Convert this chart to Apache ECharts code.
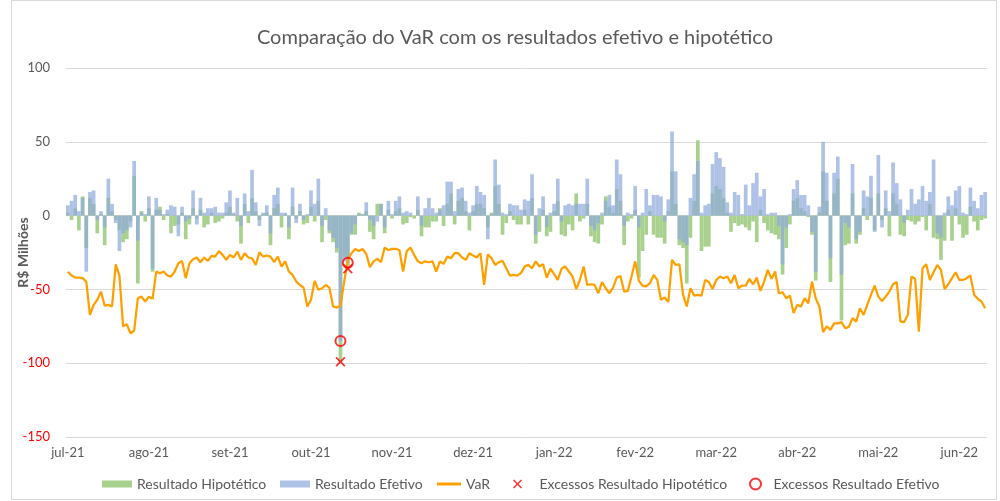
<!DOCTYPE html>
<html><head><meta charset="utf-8">
<script src="https://cdn.jsdelivr.net/npm/echarts@6/dist/echarts.min.js"></script>
<style>html,body{margin:0;padding:0;background:#fff}#c{width:1000px;height:501px}</style>
</head><body><div id="c"></div>
<script>
const chartTitle = 'Comparação do VaR com os resultados efetivo e hipotético';
const yAxisName = 'R$ Milhões';
const monthLabels = ['jul-21','ago-21','set-21','out-21','nov-21','dez-21','jan-22','fev-22','mar-22','abr-22','mai-22','jun-22'];
const daysPerLabel = 22;
const yTicks = [-150, -100, -50, 0, 50, 100];

const hipotetico = [
  2, -3, 5, -10, 13, -22, 12, 8, -12, 1,
  -20, 12, 3, -3, -10, -18, -16, -4, 27, -46,
  3, -4, 5, -38, 4, 6, -3, 1, -12, -7,
  -6, 2, -16, -6, 5, -2, 4, -8, -6, 2,
  -5, -4, -2, 2, 6, 1, -4, -19, 8, -5,
  12, 3, -3, 1, 2, -20, 5, 8, -8, 1,
  -16, 6, -2, 3, -6, -5, 6, -4, 10, -18,
  -3, -12, -18, -25, -99, -28, -36, -13, -13, 2,
  1, 3, -11, -16, 8, 8, -12, 4, -2, 3,
  5, -6, -5, -1, -2, 4, -14, -8, -8, -4,
  -4, 5, -7, 8, 15, -6, 10, 12, 3, -10,
  3, 8, 8, 5, -8, 2, 20, 8, -13, -5,
  3, -3, -6, -6, 4, -6, 12, -19, -11, 4,
  -14, -11, 3, 10, -13, -14, -6, -10, 15, -4,
  -2, 8, -14, -18, -19, -6, 13, 6, 2, 18,
  10, -20, -4, -2, 4, -42, -24, -13, 3, -13,
  -15, -15, -19, 3, 30, 8, -20, -22, -46, -15,
  10, 51, -24, -21, -21, 15, 20, 18, 12, 2,
  -11, -5, -7, -6, -8, -10, -4, -18, 4, -5,
  -10, -12, -13, -16, -40, -22, -6, 10, 12, 5,
  3, -1, -13, -44, 2, 30, 10, -45, 15, 25,
  -71, -20, -19, 15, -19, -13, 5, -3, 12, -10,
  15, -3, 5, -14, 15, 8, -13, -14, -3, -4,
  -6, -4, -1, -10, 8, -15, -16, -30, -17, 4,
  -17, 5, -6, -15, -13, 6, -4, -10, -3, -2
];

const efetivo = [
  7, 10, 14, 3, 12, -38, 16, 17, -3, 3,
  -8, 25, 8, -5, -24, -12, -10, -8, 37, -17,
  2, 1, 13, -36, 12, 4, 1, 4, 7, 6,
  -14, 6, -4, -2, 17, -6, 12, 2, 5, 5,
  6, 2, 2, 9, 17, 2, 12, -7, 15, 3,
  31, 9, -7, 2, 7, -12, 14, 19, 2, 2,
  -8, 19, -5, 8, -3, 1, 17, 8, 25, -7,
  5, -10, -15, -22, -85, -31, -32, -12, -6, 1,
  1, 9, -3, -7, -4, 8, -8, 10, 1, 10,
  13, 2, 3, 2, 0, 13, -7, 5, 12, 5,
  2, 4, 7, 23, 23, 3, 18, 19, 10, 2,
  7, 20, 16, 14, -16, 1, 38, 21, 2, 1,
  8, 7, 7, 4, 11, 10, 28, -13, 5, 13,
  -8, 2, 8, 25, -4, 7, 8, 7, 8, 8,
  8, 25, -7, -10, -5, 2, 10, 14, 7, 38,
  28, -7, 2, 1, 20, -8, 2, 18, 7, 14,
  14, 13, -4, 11, 57, 30, -16, -18, -20, 12,
  28, 37, 2, 7, 8, 35, 43, 39, 33, 9,
  2, 16, 14, 1, 21, 7, 22, 29, 13, 18,
  1, 2, 2, -7, -33, -8, 1, 18, 24, 14,
  14, 7, -11, -38, 6, 50, 29, -29, 29, 40,
  -40, -5, -8, 35, -16, -11, 17, 13, 27, -11,
  41, -8, 17, 3, 36, 22, 11, -5, 4, 18,
  8, 11, 20, 10, 16, 38, -12, -15, 2, 13,
  7, 17, 20, 2, 1, 19, 10, 5, 14, 16
];

const varValues = [
  -38, -40.6, -42, -42, -42.4, -44.7, -67.3, -60.5, -57, -51.5,
  -61, -60.5, -61.6, -33, -40.6, -75, -73.6, -79.7, -78, -56,
  -54.9, -58.2, -55, -56.4, -37.9, -39, -37.9, -40.6, -41.3, -37.9,
  -32.3, -30.7, -42.4, -32.3, -29.6, -28.4, -31.6, -28.4, -30.7, -27.3,
  -27.8, -24, -26.6, -30, -26.6, -28.4, -24.4, -30, -25.5, -28.4,
  -28.9, -33.4, -24.8, -27.8, -27, -27.8, -31.6, -27.8, -34.5, -31,
  -37.9, -40.2, -44.7, -47, -48.8, -61.6, -57, -44.2, -50.3, -49.2,
  -47, -48.8, -61.6, -62.3, -61, -45, -30, -25.5, -22.6, -24,
  -22.6, -26, -35, -31, -29.3, -31.6, -21.7, -23.3, -22.6, -22.6,
  -23.3, -37.9, -24, -21.7, -26.6, -31, -32.3, -31, -31.6, -31,
  -37.9, -31, -32.7, -27.8, -28.9, -25.5, -25.5, -28.4, -30, -25.5,
  -27, -28.4, -25.5, -47, -26.2, -28.9, -33.4, -31.6, -30.7, -35.7,
  -40.6, -40.2, -40.6, -39, -34.5, -33.4, -35.7, -31, -34.5, -33,
  -42, -36, -39.7, -43.6, -36, -34.5, -37.9, -41.3, -49.7, -43.6,
  -34.5, -47, -46.5, -47, -52.6, -45, -49.2, -52.6, -48.8, -42,
  -40.9, -51.5, -51, -41.3, -31, -44.2, -47.4, -48, -45.8, -40.2,
  -43.6, -57, -55.4, -58.5, -30, -33.4, -33, -53.7, -61.6, -49.2,
  -54.2, -53.7, -54.2, -43.6, -45, -49.7, -43.6, -41.3, -42.4, -41.3,
  -45.8, -40.2, -49.2, -47.4, -47.4, -42.9, -46.5, -42, -51, -44.7,
  -36.8, -42.9, -37.9, -52.6, -52, -56, -54.2, -66, -60.5, -61.6,
  -56, -59.4, -44.7, -56, -61.6, -79, -75, -77.4, -73, -73,
  -72.2, -76.3, -75.4, -69.5, -71.8, -62.8, -67.3, -60.5, -53.7, -47.4,
  -54.9, -57.8, -54.9, -51.5, -46.5, -45, -71.8, -72.2, -67.3, -41.3,
  -42.9, -78.6, -35.7, -33, -43.6, -38.4, -33.4, -36.8, -49.7, -46.5,
  -42.4, -38.4, -43.6, -43.6, -42.4, -40.6, -53.7, -56.4, -58.2, -62.8
];

const excessHipDays = [74, 76];
const excessEfDays = [74, 76];

const names = {
  hip: 'Resultado Hipotético',
  ef: 'Resultado Efetivo',
  varN: 'VaR',
  exHip: 'Excessos Resultado Hipotético',
  exEf: 'Excessos Resultado Efetivo'
};

const days = hipotetico.map((_, i) => String(i));
const FONT = 'Lato';
const TXT = '#595959';
const xPath = 'path://M0,1.2L1.2,0L5,3.8L8.8,0L10,1.2L6.2,5L10,8.8L8.8,10L5,6.2L1.2,10L0,8.8L3.8,5Z';

const chart = echarts.init(document.getElementById('c'), null, {renderer: 'canvas'});
const legendBase = {
  top: 477, itemGap: 0, padding: 0, selectedMode: false, symbolKeepAspect: true,
  textStyle: {fontFamily: FONT, fontSize: 14, color: TXT}
};
chart.setOption({
  animation: false,
  backgroundColor: '#fff',
  textStyle: {fontFamily: FONT},
  graphic: [
    {type: 'rect', shape: {x: 11.5, y: 0.5, width: 985, height: 499}, style: {fill: 'none', stroke: '#D9D9D9', lineWidth: 1}, silent: true},
    {type: 'text', x: 515, y: 38, style: {text: chartTitle, fontFamily: FONT, fontSize: 20, fill: TXT, align: 'center', verticalAlign: 'middle'}}
  ],
  grid: {left: 66, right: 13, top: 68, bottom: 64},
  legend: [
    Object.assign({}, legendBase, {left: 102, itemWidth: 30, itemHeight: 7, data: [{name: names.hip, icon: 'rect'}]}),
    Object.assign({}, legendBase, {left: 280, itemWidth: 30, itemHeight: 7, data: [{name: names.ef, icon: 'rect'}]}),
    Object.assign({}, legendBase, {left: 437, itemWidth: 24, itemHeight: 3, data: [{name: names.varN, icon: 'rect'}]}),
    Object.assign({}, legendBase, {left: 513, itemWidth: 34, itemHeight: 9, data: [{name: names.exHip}]}),
    Object.assign({}, legendBase, {left: 749, itemWidth: 26, itemHeight: 11, data: [{name: names.exEf}]})
  ],
  xAxis: {
    type: 'category',
    data: days,
    boundaryGap: true,
    axisLine: {show: false},
    axisTick: {show: false},
    splitLine: {show: false},
    axisLabel: {
      interval: daysPerLabel - 1,
      margin: 9,
      fontFamily: FONT, fontSize: 13, color: TXT,
      formatter: (v, i) => monthLabels[Math.round(i / daysPerLabel)] || ''
    }
  },
  yAxis: {
    type: 'value',
    min: yTicks[0], max: yTicks[yTicks.length - 1], interval: 50,
    name: yAxisName,
    nameLocation: 'middle',
    nameGap: 36,
    nameMoveOverlap: false,
    nameTextStyle: {fontFamily: FONT, fontSize: 14, fontWeight: 'bold', color: TXT},
    axisLine: {show: false},
    axisTick: {show: false},
    splitLine: {lineStyle: {color: '#D9D9D9', width: 1}},
    axisLabel: {
      margin: 16, fontFamily: FONT, fontSize: 13,
      color: (v) => (Number(v) < 0 ? '#FF0000' : TXT)
    }
  },
  series: [
    {
      name: names.hip, type: 'bar', data: hipotetico,
      barCategoryGap: '0%', barGap: '-100%',
      itemStyle: {color: '#A9D18E'}, z: 2
    },
    {
      name: names.ef, type: 'bar', data: efetivo,
      barCategoryGap: '0%', barGap: '-100%',
      itemStyle: {color: '#8FAADC', opacity: 0.72}, z: 3
    },
    {
      name: names.varN, type: 'line', data: varValues,
      showSymbol: false, symbol: 'none',
      lineStyle: {color: '#FFA000', width: 2.25},
      itemStyle: {color: '#FFA000'}, z: 4
    },
    {
      name: names.exHip, type: 'scatter',
      data: excessHipDays.map(d => [d, hipotetico[d]]),
      symbol: xPath, symbolSize: 10,
      itemStyle: {color: '#FF0000'}, z: 6
    },
    {
      name: names.exEf, type: 'scatter',
      data: excessEfDays.map(d => [d, efetivo[d]]),
      symbol: 'circle', symbolSize: 10,
      itemStyle: {color: 'rgba(255,255,255,0)', borderColor: '#FF0000', borderWidth: 2}, z: 6
    }
  ]
});
</script>
</body></html>
